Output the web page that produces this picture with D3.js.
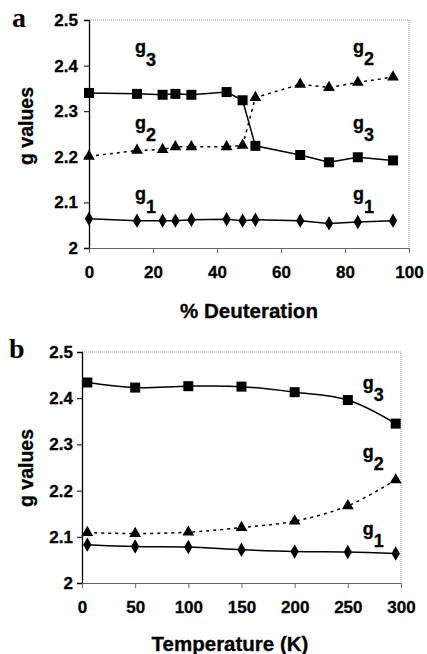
<!DOCTYPE html>
<html><head><meta charset="utf-8">
<script src="https://cdn.jsdelivr.net/npm/d3@7"></script>
<style>
html,body{margin:0;padding:0;background:#fff;}
svg{display:block;}
text{font-family:"Liberation Sans",Arial,sans-serif;font-weight:bold;fill:#000;}
</style></head>
<body>
<script>
// Panel a: % Deuteration
const deutX = [0, 15, 23, 27, 32, 43, 48, 52, 66, 75, 84, 95];
const deutG3 = [2.340, 2.338, 2.336, 2.338, 2.336, 2.342, 2.324, 2.224, 2.204, 2.188, 2.199, 2.192];
const deutG2 = [2.201, 2.214, 2.216, 2.222, 2.222, 2.222, 2.225, 2.330, 2.359, 2.352, 2.363, 2.375];
const deutG1 = [2.064, 2.060, 2.060, 2.060, 2.062, 2.063, 2.060, 2.062, 2.060, 2.054, 2.057, 2.060];
// Panel b: Temperature (K)
const tempX = [5, 50, 100, 150, 200, 250, 295];
const tempG3 = [2.434, 2.423, 2.426, 2.425, 2.413, 2.396, 2.345];
const tempG2 = [2.109, 2.107, 2.110, 2.120, 2.134, 2.167, 2.223];
const tempG1 = [2.083, 2.079, 2.078, 2.072, 2.068, 2.067, 2.064];
const yTicks = [2, 2.1, 2.2, 2.3, 2.4, 2.5];
const yTickLabels = ["2", "2.1", "2.2", "2.3", "2.4", "2.5"];
const deutTicks = [0, 20, 40, 60, 80, 100];
const tempTicks = [0, 50, 100, 150, 200, 250, 300];

const W = 427, H = 654;
const svg = d3.select("body").append("svg").attr("width", W).attr("height", H);

function panel(cfg) {
  const g = svg.append("g");
  const x = d3.scaleLinear().domain(cfg.xDomain).range([cfg.left, cfg.right]);
  const y = d3.scaleLinear().domain([2, 2.5]).range([cfg.bottom, cfg.top]);
  g.append("path")
    .attr("d", `M${cfg.left},${cfg.top}H${cfg.right}V${cfg.bottom}`)
    .attr("fill", "none").attr("stroke", "#999").attr("stroke-width", 1)
    .attr("stroke-dasharray", "1,1");
  const ya = d3.axisLeft(y).tickValues(yTicks).tickFormat((d, i) => yTickLabels[i]).tickSize(5).tickPadding(cfg.yPad);
  const yg = g.append("g").attr("transform", `translate(${cfg.left},0)`).call(ya);
  yg.select(".domain").attr("stroke", "#000").attr("stroke-width", 1.3);
  yg.selectAll("line").attr("stroke", "#000");
  yg.selectAll("text").style("font-size", "17px").style("stroke", "#000").style("stroke-width", 0.3);
  const xa = d3.axisBottom(x).tickValues(cfg.xTicks).tickFormat(d3.format("d")).tickSize(5).tickPadding(13);
  const xg = g.append("g").attr("transform", `translate(0,${cfg.bottom})`).call(xa);
  xg.select(".domain").attr("stroke", "#666").attr("stroke-width", 1);
  xg.selectAll("line").attr("stroke", "#666");
  xg.selectAll("text").style("font-size", "17px").style("stroke", "#000").style("stroke-width", 0.3);

  const curve = cfg.smooth ? d3.curveCatmullRom : d3.curveLinear;
  const series = [
    {vals: cfg.g3, dash: null, marker: d3.symbolSquare, size: 100},
    {vals: cfg.g2, dash: "3,4", marker: d3.symbolTriangle, size: 60},
    {vals: cfg.g1, dash: null, marker: d3.symbolDiamond, size: 60}
  ];
  series.forEach(s => {
    const pts = cfg.xs.map((xv, i) => [xv, s.vals[i]]);
    g.append("path").datum(pts)
      .attr("d", d3.line().x(d => x(d[0])).y(d => y(d[1])).curve(curve))
      .attr("fill", "none").attr("stroke", "#000").attr("stroke-width", 1.5)
      .attr("stroke-dasharray", s.dash);
    g.selectAll(null).data(pts).enter().append("path")
      .attr("transform", d => `translate(${x(d[0])},${y(d[1])})`)
      .attr("d", d3.symbol().type(s.marker).size(s.size))
      .attr("fill", "#000");
  });
  cfg.labels.forEach(l => {
    const t = g.append("text").attr("x", x(l[0])).attr("y", y(l[1])).style("font-size", "18px")
      .style("stroke", "#000").style("stroke-width", 0.3);
    t.append("tspan").text("g");
    t.append("tspan").attr("dy", 12.5).text(l[2]);
  });
  g.append("text").attr("x", cfg.xTitleX).attr("y", cfg.xTitleY).attr("text-anchor", "middle")
    .style("font-size", "20.5px").style("stroke", "#000").style("stroke-width", 0.3).text(cfg.xTitle);
  g.append("text").attr("transform", `translate(${cfg.yTitleX},${cfg.yTitleY}) rotate(-90)`)
    .attr("text-anchor", "middle").style("font-size", "19.5px").style("stroke", "#000").style("stroke-width", 0.3)
    .text("g values");
  g.append("text").attr("x", cfg.letterX).attr("y", cfg.letterY)
    .style("font-family", "'Liberation Serif','Times New Roman',serif").style("font-size", "28px")
    .text(cfg.letter);
}

panel({
  left: 89, right: 409, top: 20, bottom: 248, yPad: 6,
  xDomain: [0, 100], xTicks: deutTicks, xs: deutX,
  g3: deutG3, g2: deutG2, g1: deutG1, smooth: false,
  labels: [[14.4, 2.427, "3"], [82.5, 2.428, "2"], [14.4, 2.261, "2"], [82.5, 2.261, "3"], [14.4, 2.105, "1"], [82.5, 2.105, "1"]],
  xTitle: "% Deuteration", xTitleX: 249, xTitleY: 318,
  yTitleX: 33, yTitleY: 126, letter: "a", letterX: 12, letterY: 27
});
panel({
  left: 82, right: 401, top: 352, bottom: 583, yPad: 4,
  xDomain: [0, 300], xTicks: tempTicks, xs: tempX,
  g3: tempG3, g2: tempG2, g1: tempG1, smooth: true,
  labels: [[264, 2.42, "3"], [264, 2.271, "2"], [264, 2.104, "1"]],
  xTitle: "Temperature (K)", xTitleX: 230, xTitleY: 651,
  yTitleX: 33, yTitleY: 468, letter: "b", letterX: 9, letterY: 358
});
</script>
</body></html>
